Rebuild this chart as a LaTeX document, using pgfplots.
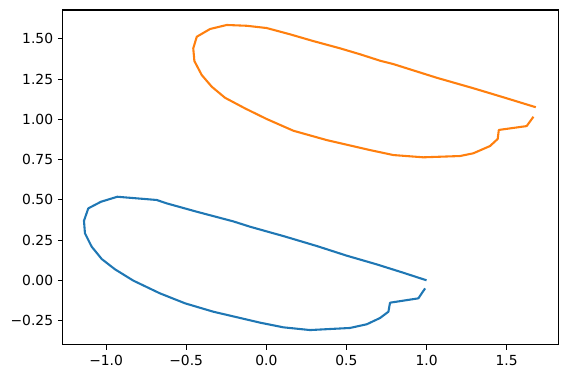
\documentclass[border=0pt]{standalone}
\usepackage{fontspec}
\setmainfont{DejaVu Sans}
\usepackage{pgfplots}
\pgfplotsset{compat=1.18}
\definecolor{mplblue}{HTML}{1F77B4}
\definecolor{mplorange}{HTML}{FF7F0E}
\begin{document}
\begin{tikzpicture}
\begin{axis}[
  scale only axis,
  width=372pt, height=251pt,
  xmin=-1.271, xmax=1.825, ymin=-0.40, ymax=1.679,
  axis line style={line width=0.83pt},
  tick style={line width=0.83pt, black},
  major tick length=3.65pt,
  tick align=outside,
  xtick pos=bottom, ytick pos=left,
  xtick={-1,-0.5,0,0.5,1,1.5},
  xticklabels={−1.0,−0.5,0.0,0.5,1.0,1.5},
  ytick={-0.25,0,0.25,0.5,0.75,1,1.25,1.5},
  yticklabels={−0.25,0.00,0.25,0.50,0.75,1.00,1.25,1.50},
  tick label style={font=\fontsize{10.4pt}{12pt}\selectfont},
  xticklabel style={yshift=-1pt},
  every axis plot/.append style={line width=1.56pt, line join=round},
]
\addplot[mplblue, no marks] coordinates {
(1.0,0.0) (0.855,0.047) (0.689,0.099) (0.502,0.153) (0.315,0.213) (0.106,0.275)
(0.023,0.298) (-0.102,0.333) (-0.206,0.366) (-0.434,0.426) (-0.622,0.478) (-0.684,0.499)
(-0.930,0.519) (-1.032,0.488) (-1.111,0.447) (-1.138,0.370) (-1.132,0.292)
(-1.090,0.209) (-1.027,0.132) (-0.944,0.068) (-0.830,-0.002) (-0.664,-0.081)
(-0.507,-0.143) (-0.331,-0.195) (-0.039,-0.263) (0.106,-0.292) (0.273,-0.309)
(0.522,-0.296) (0.627,-0.273) (0.710,-0.234) (0.762,-0.195) (0.772,-0.139)
(0.949,-0.112) (0.991,-0.050)
};
\addplot[mplorange, no marks] coordinates {
(1.682,1.075) (1.479,1.137) (1.292,1.193) (1.064,1.258) (0.793,1.343) (0.710,1.364)
(0.585,1.404) (0.460,1.441) (0.293,1.486) (0.148,1.528) (0.002,1.567)
(-0.122,1.581) (-0.247,1.586)
(-0.351,1.561) (-0.434,1.513) (-0.456,1.441) (-0.449,1.362) (-0.403,1.275)
(-0.341,1.203) (-0.258,1.134) (-0.133,1.068) (0.002,1.002) (0.169,0.929)
(0.377,0.871) (0.647,0.809) (0.793,0.778) (0.980,0.764) (1.209,0.772)
(1.292,0.789) (1.396,0.834) (1.444,0.878) (1.451,0.934) (1.625,0.958) (1.667,1.016)
};
\end{axis}
\pgfresetboundingbox
\path ([shift={(-47pt,-25.7pt)}]current axis.south west) rectangle ([shift={(6.2pt,7.5pt)}]current axis.north east);
\end{tikzpicture}
\end{document}
